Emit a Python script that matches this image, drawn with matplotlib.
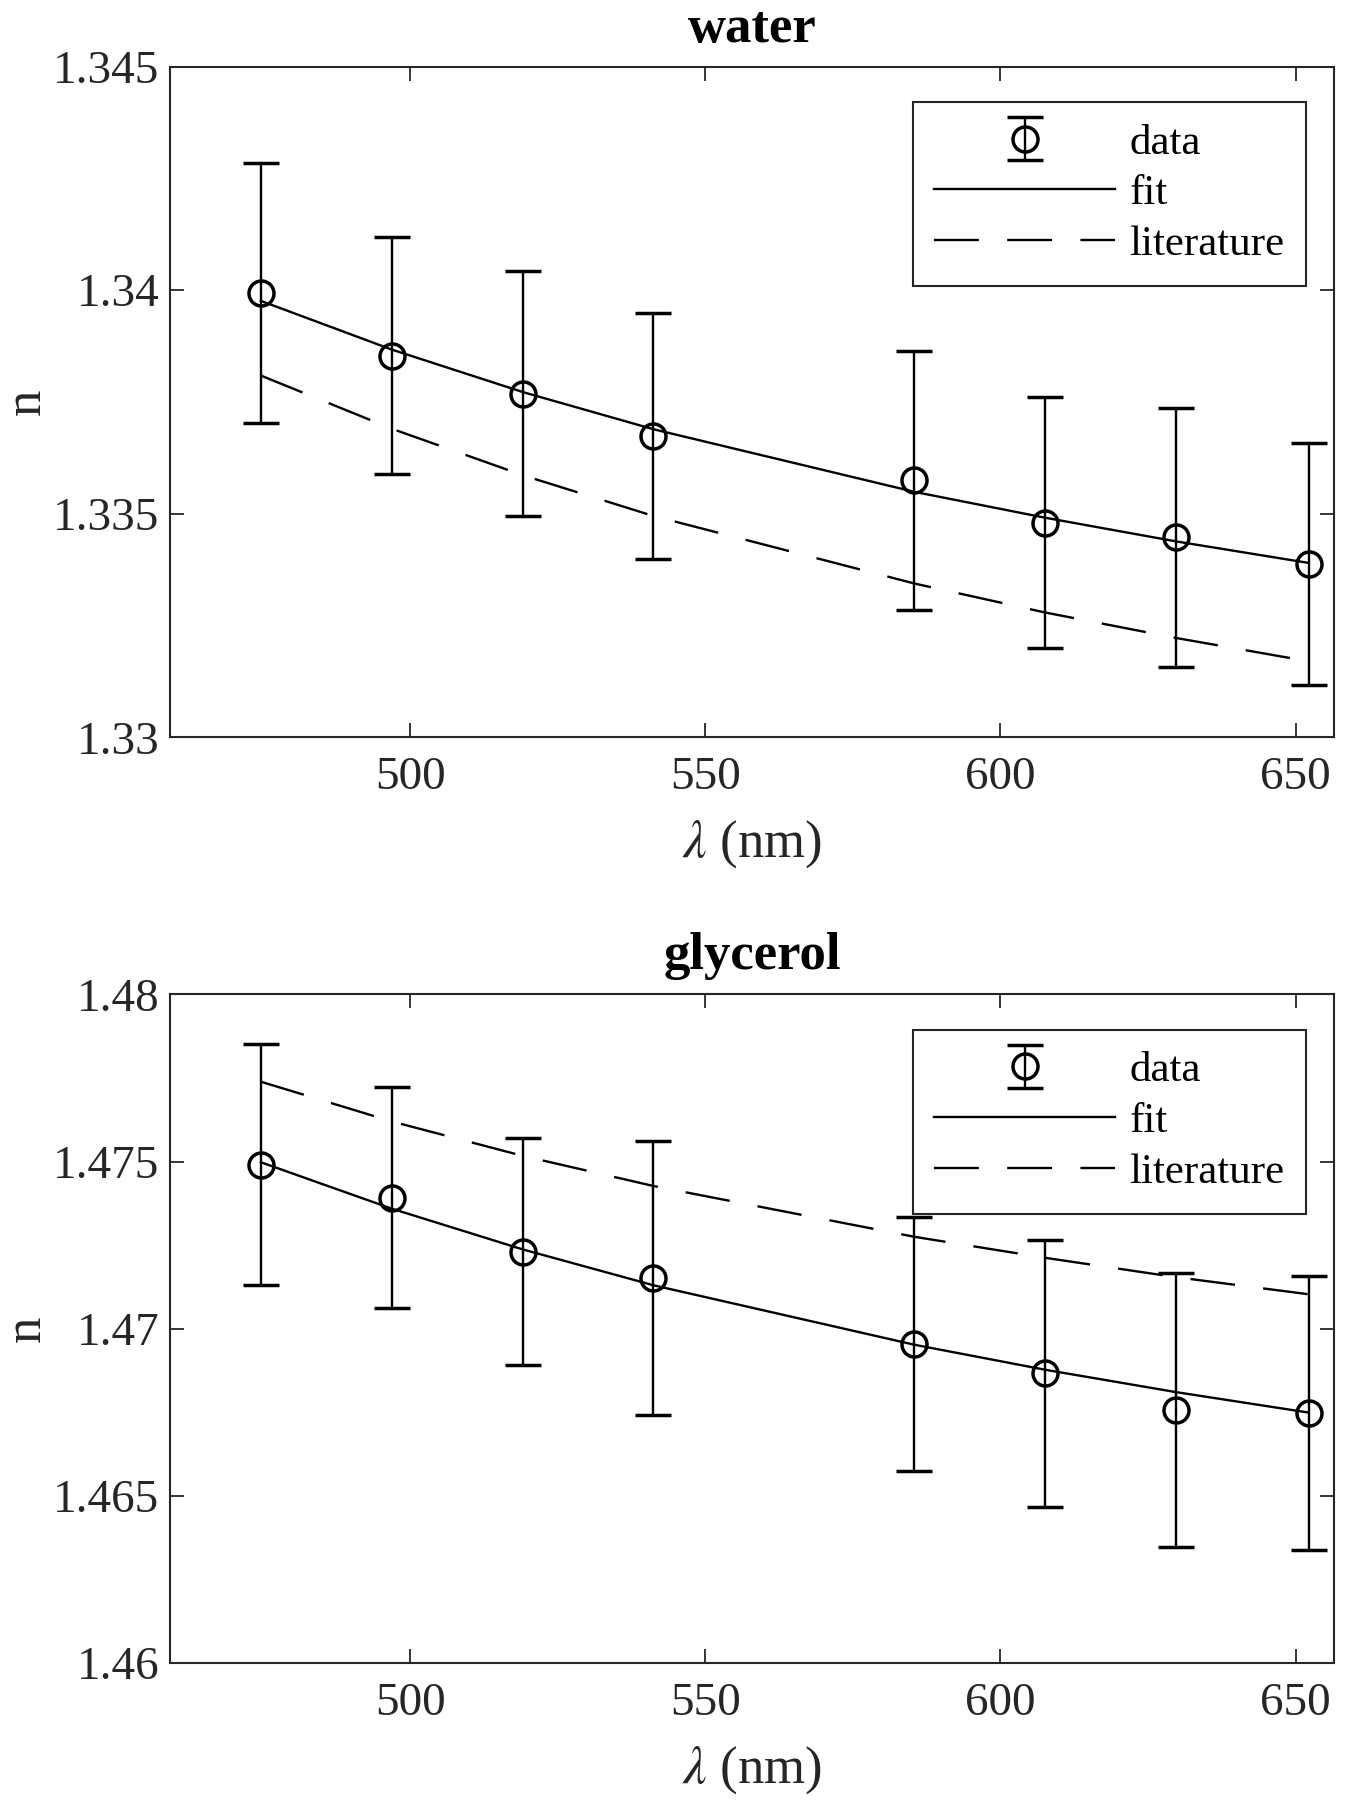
import matplotlib
matplotlib.use("Agg")
import matplotlib.pyplot as plt
from matplotlib.ticker import FormatStrFormatter

plt.rcParams['font.family'] = ['Liberation Serif', 'DejaVu Serif']
plt.rcParams['mathtext.fontset'] = 'stix'

# wavelengths (nm)
lam = [474.7, 496.9, 519.1, 541.2, 585.4, 607.6, 629.8, 652.2]

# water
water_n = [1.33994, 1.33853, 1.33768, 1.33673, 1.33575, 1.33480, 1.33447, 1.33388]
water_err = [0.0029, 0.00265, 0.00274, 0.00275, 0.0029, 0.0028, 0.0029, 0.0027]
water_fit = [1.33976, 1.33867, 1.33772, 1.33689, 1.33549, 1.33491, 1.33438, 1.33390]
water_lit = [1.33809, 1.33690, 1.33586, 1.33495, 1.33344, 1.33279, 1.33222, 1.33170]

# glycerol
gly_n = [1.47491, 1.47392, 1.47230, 1.47151, 1.46955, 1.46866, 1.46756, 1.46749]
gly_err = [0.0036, 0.0033, 0.0034, 0.0041, 0.0038, 0.0040, 0.0041, 0.0041]
gly_fit = [1.47498, 1.47359, 1.47237, 1.47130, 1.46952, 1.46877, 1.46810, 1.46749]
gly_lit = [1.47739, 1.47620, 1.47517, 1.47427, 1.47275, 1.47212, 1.47154, 1.47103]

xticks = [500, 550, 600, 650]
water_yticks = [1.33, 1.335, 1.34, 1.345]
gly_yticks = [1.46, 1.465, 1.47, 1.475, 1.48]

fig = plt.figure(figsize=(13.62, 18), dpi=100)
ax1 = fig.add_axes([0.1248, 0.5904, 0.855, 0.3726])
ax2 = fig.add_axes([0.1248, 0.0762, 0.855, 0.3713])

panels = [
    (ax1, "water", water_n, water_err, water_fit, water_lit, water_yticks),
    (ax2, "glycerol", gly_n, gly_err, gly_fit, gly_lit, gly_yticks),
]

ink = '#262626'
for ax, title, n, err, fit, lit, yt in panels:
    eb = ax.errorbar(lam, n, yerr=err, fmt='o', color='black', markersize=18,
                     markerfacecolor='none', markeredgewidth=2.5, elinewidth=1.7,
                     capsize=13, capthick=4.5, label='data')
    fl, = ax.plot(lam, fit, color='black', linewidth=1.7, label='fit')
    ll, = ax.plot(lam, lit, color='black', linewidth=1.7, linestyle=(0, (19, 12)),
                  label='literature')
    ax.set_xlim(459.3, 656.6)
    ax.set_ylim(yt[0], yt[-1])
    ax.set_xticks(xticks)
    ax.set_yticks(yt)
    ax.yaxis.set_major_formatter(FormatStrFormatter('%g'))
    ax.tick_params(direction='in', length=10, width=1.3, top=True, right=True,
                   labelsize=34, colors=ink)
    ax.tick_params(axis='x', pad=14)
    ax.tick_params(axis='y', pad=7.5)
    for s in ax.spines.values():
        s.set_color(ink)
        s.set_linewidth(1.5)
    ax.set_title(title, fontsize=38, fontweight='bold', pad=18)
    ax.set_xlabel(r'$\lambda$ (nm)', fontsize=38, color=ink, labelpad=14)
    ax.set_ylabel('n', fontsize=38, color=ink, labelpad=2)
    leg = ax.legend([eb, fl, ll], ['data', 'fit', 'literature'],
                    loc='upper right', bbox_to_anchor=(0.9756, 0.9472),
                    fontsize=31, frameon=True, fancybox=False,
                    edgecolor=ink, framealpha=1, handlelength=4.2,
                    handletextpad=0.33, labelspacing=0.27, borderpad=0.5,
                    borderaxespad=0)
    leg.get_frame().set_linewidth(1.5)

fig.savefig('out.png', dpi=100)
